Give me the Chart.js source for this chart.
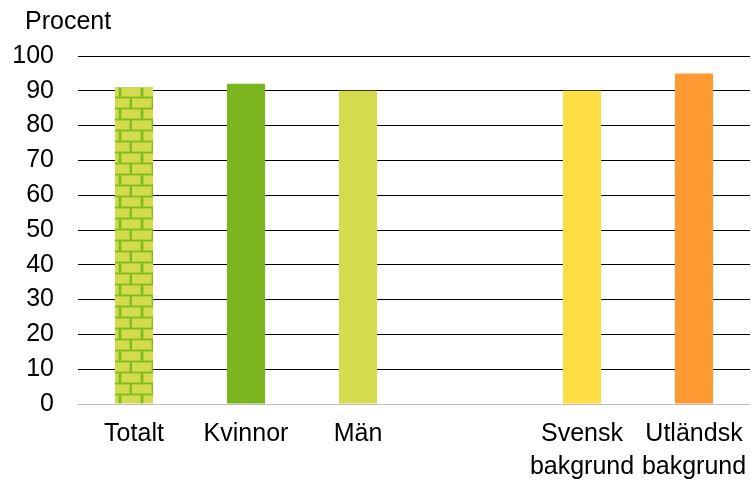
<!DOCTYPE html>
<html>
<head>
<meta charset="utf-8">
<script src="https://cdn.jsdelivr.net/npm/chart.js@4.4.0/dist/chart.umd.min.js"></script>
<style>
  html, body { margin: 0; padding: 0; background: #fff; }
  #wrap { width: 751px; height: 483px; position: relative; }
</style>
</head>
<body>
<div id="wrap"><canvas id="chartCanvas"></canvas></div>
<script>
// ------- Data -------
const categories = [
  "Totalt",
  "Kvinnor",
  "Män",
  "",
  ["Svensk", "bakgrund"],
  ["Utländsk", "bakgrund"]
];
const percentValues = [91, 92, 90, null, 90, 95];
const yTicks = [0, 10, 20, 30, 40, 50, 60, 70, 80, 90, 100];
const axisTitle = "Procent";

const FONT = "'Liberation Sans', Arial, sans-serif";

// ------- Brick pattern for "Totalt" -------
function makeBrickPattern(ctx) {
  const c = document.createElement("canvas");
  c.width = 22;
  c.height = 22;
  const p = c.getContext("2d");
  p.fillStyle = "#7FBB23"; // mortar
  p.fillRect(0, 0, 22, 22);
  const brick = (x, y, w, h) => {
    p.fillStyle = "#AFCF3A";
    p.fillRect(x, y, w, h);
    p.fillStyle = "#D4DB4C";
    p.fillRect(x + 1, y + 1, w - 2, h - 2);
  };
  // row B: y 0..8, vertical mortar at x 9..10
  brick(11, -1, 20, 10);
  brick(-11, -1, 20, 10);
  brick(11, 21, 20, 10);
  brick(-11, 21, 20, 10);
  // row A: y 11..19, vertical mortar at x 20..21
  brick(-2, 10, 22, 10);
  return ctx.createPattern(c, "repeat");
}

// ------- Chart -------
window.addEventListener("DOMContentLoaded", () => {
  const ctx = document.getElementById("chartCanvas").getContext("2d");
  const brick = makeBrickPattern(ctx);

  const titlePlugin = {
    id: "procentTitle",
    afterDraw(chart) {
      const c = chart.ctx;
      c.save();
      c.font = "25px " + FONT;
      c.fillStyle = "#000";
      c.textAlign = "left";
      c.textBaseline = "alphabetic";
      c.fillText(axisTitle, 25, 29);
      c.restore();
    }
  };

  new Chart(ctx, {
    type: "bar",
    data: {
      labels: categories,
      datasets: [{
        data: percentValues,
        backgroundColor: [brick, "#7AB51D", "#D4DB4C", "#ffffff", "#FFDD44", "#FF9A33"],
        borderWidth: 0,
        barPercentage: 0.34,
        categoryPercentage: 1.0
      }]
    },
    options: {
      responsive: true,
      maintainAspectRatio: false,
      animation: false,
      layout: { padding: { top: 56, left: 14, right: 1, bottom: 0 } },
      plugins: {
        legend: { display: false },
        tooltip: { enabled: false }
      },
      scales: {
        x: {
          grid: { display: false, drawTicks: false },
          border: { display: false },
          ticks: {
            color: "#000",
            padding: 14,
            maxRotation: 0,
            autoSkip: false,
            font: { family: FONT, size: 25, lineHeight: 1.3 }
          },
          afterFit(scale) {
            scale.height = 79;
            scale.paddingLeft = 0;
            scale.paddingRight = 0;
          }
        },
        y: {
          min: 0,
          max: 100,
          afterBuildTicks(scale) { scale.ticks = yTicks.map(v => ({ value: v })); },
          grid: {
            drawTicks: false,
            lineWidth: 1,
            color: (c) => (c.tick && c.tick.value === 0 ? "#bfbfbf" : "#000000")
          },
          border: { display: false },
          ticks: {
            color: "#000",
            padding: 24,
            font: { family: FONT, size: 25 }
          },
          afterFit(scale) {
            scale.width = 64;
            scale.paddingTop = 0;
            scale.paddingBottom = 0;
          }
        }
      }
    },
    plugins: [titlePlugin]
  });
});
</script>
</body>
</html>
